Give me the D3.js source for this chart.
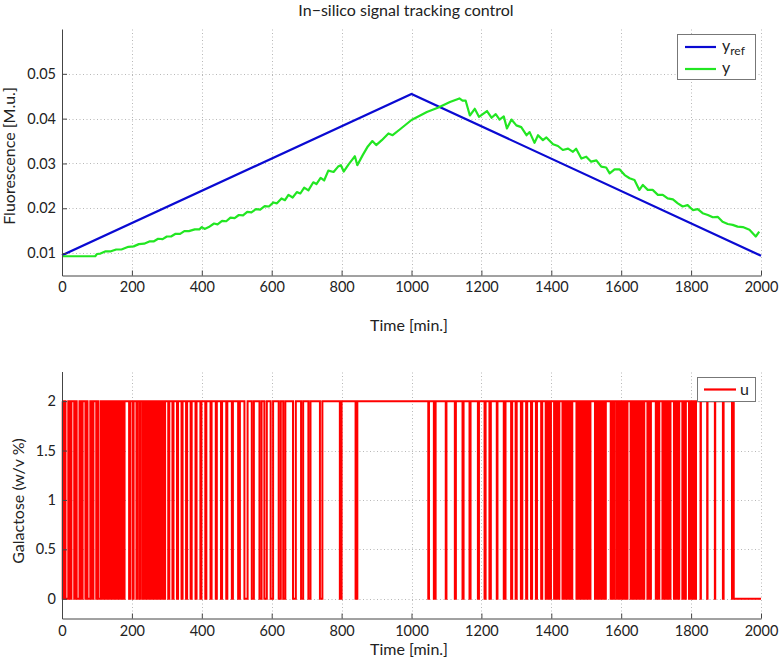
<!DOCTYPE html>
<html>
<head>
<meta charset="utf-8">
<script src="https://cdn.jsdelivr.net/npm/d3@7"></script>
<style>
body { margin: 0; background: #fff; }
text { font-family: Lato, sans-serif; fill: #222; }
</style>
</head>
<body>
<svg id="chart" width="780" height="661"></svg>
<script>
// ticks
var timeTicks = [0, 200, 400, 600, 800, 1000, 1200, 1400, 1600, 1800, 2000];
var fluoTicks = [0.01, 0.02, 0.03, 0.04, 0.05];
var galTicks = [0, 0.5, 1, 1.5, 2];

// reference signal y_ref
var refTime = [0, 1000, 2000];
var refValue = [0.0095, 0.0455, 0.0094];

// measured output y
var outTime = [0, 95, 100, 110, 125, 140, 155, 170, 190, 205, 220, 235, 250, 262, 275, 288, 300, 312, 325, 338,
  350, 363, 380, 393, 400, 408, 420, 435, 445, 458, 470, 482, 494, 506, 518, 530, 542, 555, 567, 580,
  592, 605, 615, 628, 638, 648, 660, 672, 682, 693, 705, 719, 728, 740, 750, 762, 777, 790, 798, 806,
  820, 830, 838, 845, 860, 875, 888, 899, 915, 934, 946, 970, 1000, 1044, 1077, 1110, 1137, 1146, 1155, 1167,
  1181, 1193, 1216, 1229, 1241, 1252, 1264, 1273, 1286, 1300, 1314, 1329, 1338, 1352, 1362, 1376, 1386, 1405, 1419, 1433,
  1448, 1462, 1471, 1486, 1500, 1514, 1529, 1543, 1557, 1567, 1581, 1595, 1610, 1624, 1638, 1652, 1662, 1676, 1690, 1705,
  1719, 1733, 1748, 1762, 1776, 1790, 1805, 1819, 1833, 1848, 1862, 1876, 1890, 1905, 1919, 1933, 1948, 1967, 1985, 1995];
var outValue = [.0093, .0093, .0098, .0099, .0104, .0104, .0108, .0108, .0114, .0115, .0120, .0121, .0126, .0126, .0132, .0131, .0137, .0137, .0143, .0143,
  .0149, .0149, .0153, .0153, .0158, .0154, .0158, .0166, .0164, .0172, .0171, .0179, .0178, .0185, .0184, .0192, .0191, .0198, .0197, .0205,
  .0204, .0213, .0211, .0222, .0218, .0230, .0224, .0236, .0233, .0246, .0240, .0258, .0254, .0268, .0262, .0284, .0281, .0293, .0296, .0282,
  .0298, .0308, .0316, .0296, .0318, .0338, .0350, .0341, .0352, .0367, .0363, .0378, .0397, .0415, .0425, .0437, .0445, .0440, .0440, .0407,
  .0422, .0404, .0417, .0402, .0410, .0398, .0405, .0378, .0398, .0385, .0381, .0363, .0370, .0346, .0363, .0352, .0358, .0343, .0339, .0330,
  .0333, .0326, .0333, .0311, .0315, .0304, .0307, .0293, .0291, .0278, .0287, .0287, .0274, .0267, .0263, .0241, .0252, .0241, .0241, .0230,
  .0230, .0222, .0220, .0211, .0204, .0207, .0196, .0198, .0189, .0185, .0180, .0181, .0170, .0165, .0163, .0159, .0158, .0152, .0137, .0148];

// control input u: it sits at 2 except inside these [start, end] windows where it is 0
var uHigh = 2, uLow = 0, uEnd = 2000;
var uOff = [[2,5],[10,18],[22,27],[35,38],[42,50],[54,59],[67,70],[73,81],[85,90],[98,100],[103,110],
  [113,116],[119,121],[124,127],[130,132],[135,138],[141,143],[146,149],[152,154],[157,160],[163,166],[169,172],[175,179],
  [192,195],[202,205],[213,216],[222,225],
  [231,234],[237,240],[243,246],[249,252],[255,258],[261,264],[267,270],[273,276],[279,282],[285,288],
  [292,295],[304,307],[316,319],[329,332],[342,345],[355,358],[368,371],[382,385],[396,399],[410,413],[425,428],[440,443],
  [455,458],[470,473],[486,489],[504,509],[522,531],[543,549],[565,571],[579,586],[597,604],[620,626],[633,639],[661,669],
  [684,690],[705,711],[738,745],[795,800],[840,845],
  [1048,1050],[1064,1069],[1098,1100],[1124,1127],[1146,1149],[1166,1169],[1190,1193],[1209,1212],[1223,1227],[1244,1246],
  [1264,1269],[1285,1288],[1298,1301],[1313,1317],[1328,1331],[1342,1345],[1356,1359],[1371,1374],
  [1384,1387],[1390,1393],[1396,1399],[1408,1411],[1414,1417],[1420,1423],
  [1432,1435],[1438,1441],[1444,1447],[1450,1453],[1456,1460],
  [1472,1475],[1478,1481],[1484,1487],[1490,1493],[1496,1499],[1502,1505],[1508,1512],
  [1525,1528],[1531,1534],[1537,1540],[1543,1546],[1549,1552],[1554,1556],[1570,1573],[1576,1580],
  [1586,1589],[1592,1595],[1598,1601],[1604,1607],[1610,1613],[1615,1618],
  [1627,1630],[1633,1636],[1639,1642],[1645,1648],[1651,1654],[1657,1660],[1663,1666],
  [1675,1678],[1681,1685],[1699,1702],[1705,1709],
  [1718,1721],[1724,1727],[1730,1733],[1736,1741],[1751,1754],[1757,1760],[1763,1766],
  [1775,1778],[1781,1785],[1794,1797],[1800,1803],[1806,1809],[1811,1814],
  [1827,1828],[1846,1847],[1868,1869],[1891,1893],[1917,1919],[1922,2000]];

var svg = d3.select("#chart");
var left = 62, right = 761;

var x = d3.scaleLinear().domain([0, 2000]).range([left, right]);
var yTop = d3.scaleLinear().domain([0.005, 0.06]).range([275.5, 29]);
var yBot = d3.scaleLinear().domain([-0.2, 2.3]).range([618.5, 371.5]);

function grid(yScale, yTicks) {
  var g = svg.append("g").attr("stroke", "#b8b8b8").attr("stroke-width", 1).attr("stroke-dasharray", "1,2.5");
  var r = yScale.range();
  g.selectAll(".gx").data(timeTicks.slice(1)).enter().append("line")
    .attr("x1", function(d) { return Math.round(x(d)) + 0.5; })
    .attr("x2", function(d) { return Math.round(x(d)) + 0.5; })
    .attr("y1", r[0]).attr("y2", r[1]);
  g.selectAll(".gy").data(yTicks).enter().append("line")
    .attr("x1", left).attr("x2", right)
    .attr("y1", function(d) { return Math.round(yScale(d)) + 0.5; })
    .attr("y2", function(d) { return Math.round(yScale(d)) + 0.5; });
}

function axes(yScale, yTicks, fmt, pad) {
  var ax = svg.append("g").attr("transform", "translate(0," + yScale.range()[0] + ")")
    .call(d3.axisBottom(x).tickValues(timeTicks).tickFormat(function(d) { return String(d); })
      .tickSizeInner(-5).tickSizeOuter(0).tickPadding(pad));
  var ay = svg.append("g").attr("transform", "translate(" + left + ",0)")
    .call(d3.axisLeft(yScale).tickValues(yTicks).tickFormat(fmt).tickSizeInner(-5).tickSizeOuter(0).tickPadding(6));
  [ax, ay].forEach(function(a) {
    a.select(".domain").attr("stroke", "#444");
    a.selectAll(".tick line").attr("stroke", "#444");
    a.selectAll(".tick text").attr("font-size", 14.5).attr("fill", "#222")
      .style("font-family", "Lato, sans-serif");
  });
}

// ---- top panel ----
grid(yTop, fluoTicks);

var lineTop = d3.line().x(function(d) { return x(d[0]); }).y(function(d) { return yTop(d[1]); });
svg.append("path").datum(refTime.map(function(t, i) { return [t, refValue[i]]; }))
  .attr("d", lineTop).attr("fill", "none").attr("stroke", "#0a0ad2").attr("stroke-width", 2.2);
svg.append("path").datum(outTime.map(function(t, i) { return [t, outValue[i]]; }))
  .attr("d", lineTop).attr("fill", "none").attr("stroke", "#22e622").attr("stroke-width", 2.2)
  .attr("stroke-linejoin", "round");

axes(yTop, fluoTicks, d3.format(".2f"), 6);

svg.append("text").attr("x", 406).attr("y", 16).attr("text-anchor", "middle")
  .attr("font-size", 16).text("In\u2212silico signal tracking control");
svg.append("text").attr("x", 409).attr("y", 331).attr("text-anchor", "middle")
  .attr("font-size", 16).text("Time [min.]");
svg.append("text").attr("transform", "translate(15,156) rotate(-90)").attr("text-anchor", "middle")
  .attr("font-size", 16).text("Fluorescence [M.u.]");

// legend top
var lg = svg.append("g");
lg.append("rect").attr("x", 677.5).attr("y", 34.5).attr("width", 78).attr("height", 45)
  .attr("fill", "#fff").attr("stroke", "#777");
lg.append("line").attr("x1", 685).attr("x2", 716).attr("y1", 47).attr("y2", 47)
  .attr("stroke", "#0a0ad2").attr("stroke-width", 2.2);
lg.append("line").attr("x1", 685).attr("x2", 716).attr("y1", 69).attr("y2", 69)
  .attr("stroke", "#22e622").attr("stroke-width", 2.2);
var t1 = lg.append("text").attr("x", 722).attr("y", 51).attr("font-size", 16);
t1.append("tspan").text("y");
t1.append("tspan").attr("font-size", 12).attr("dy", 4).text("ref");
lg.append("text").attr("x", 722).attr("y", 73).attr("font-size", 16).text("y");

// ---- bottom panel ----
grid(yBot, galTicks);

var uPts = [[0, uHigh]];
uOff.forEach(function(w) {
  uPts.push([w[0], uLow]);
  if (w[1] < uEnd) uPts.push([w[1], uHigh]);
});
uPts.push([uEnd, uPts[uPts.length - 1][1]]);

var lineBot = d3.line().curve(d3.curveStepAfter)
  .x(function(d) { return x(d[0]); }).y(function(d) { return yBot(d[1]); });
svg.append("path").datum(uPts).attr("d", lineBot).attr("fill", "none")
  .attr("stroke", "#ff0000").attr("stroke-width", 2);

axes(yBot, galTicks, function(d) { return String(d); }, 7);

svg.append("text").attr("x", 409).attr("y", 655).attr("text-anchor", "middle")
  .attr("font-size", 16).text("Time [min.]");
svg.append("text").attr("transform", "translate(24,501) rotate(-90)").attr("text-anchor", "middle")
  .attr("font-size", 16).text("Galactose (w/v %)");

var lb = svg.append("g");
lb.append("rect").attr("x", 697.5).attr("y", 377.5).attr("width", 58).attr("height", 24)
  .attr("fill", "#fff").attr("stroke", "#777");
lb.append("line").attr("x1", 704).attr("x2", 736).attr("y1", 389.5).attr("y2", 389.5)
  .attr("stroke", "#ff0000").attr("stroke-width", 2.2);
lb.append("text").attr("x", 740).attr("y", 394.5).attr("font-size", 16).text("u");
</script>
</body>
</html>
